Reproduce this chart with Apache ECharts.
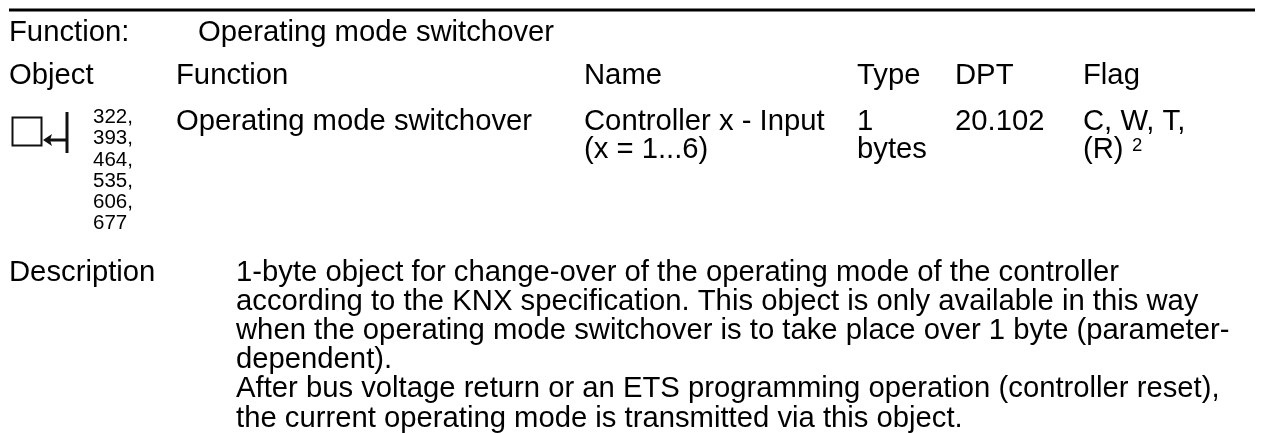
<!DOCTYPE html>
<html><head><meta charset="utf-8">
<style>html,body{margin:0;padding:0;background:#fff}#c{width:1269px;height:433px}</style>
<script src="https://cdn.jsdelivr.net/npm/echarts@6/dist/echarts.min.js"></script>
</head><body><div id="c"></div>
<script>
const titleLabel = 'Function:';
const titleValue = 'Operating mode switchover';
const headers = ['Object','Function','Name','Type','DPT','Flag'];
const objectNumbers = ['322,','393,','464,','535,','606,','677'];
const functionCell = ['Operating mode switchover'];
const nameCell = ['Controller x - Input','(x = 1...6)'];
const typeCell = ['1','bytes'];
const dptCell = ['20.102'];
const flagCell = ['C, W, T,','(R) '];
const flagNote = '2';
const descriptionLabel = 'Description';
const descriptionLines = [
 '1-byte object for change-over of the operating mode of the controller',
 'according to the KNX specification. This object is only available in this way',
 'when the operating mode switchover is to take place over 1 byte (parameter-',
 'dependent).',
 'After bus voltage return or an ETS programming operation (controller reset),',
 'the current operating mode is transmitted via this object.'
];
const F='"Liberation Sans", Arial, sans-serif', C='#000', S=29.25;
function t(text,x,base,size){const s=size||S;return {type:'text',x:x,y:base-Math.round(s*0.79),style:{text:text,x:0,y:0,fill:C,font:s+'px '+F}};}
function block(lines,x,y,lh,size){return lines.map((l,i)=>t(l,x,y+i*lh,size));}
const g=[];
g.push({type:'line',shape:{x1:9,y1:10,x2:1255,y2:10},style:{stroke:'#000',lineWidth:3}});
g.push(t(titleLabel,9,41));g.push(t(titleValue,198,41));
const headerX=[9,176,584,857,955,1083];
headers.forEach((h,i)=>g.push(t(h,headerX[i],84)));
g.push(...block(objectNumbers,93,123,21.2,20.5));
g.push(...block(functionCell,176,130,28.7));
g.push(...block(nameCell,584,130,28.7));
g.push(...block(typeCell,857,130,28.7));
g.push(...block(dptCell,955,130,28.7));
g.push(...block(flagCell,1083,130,28.7));
g.push(t(flagNote,1132,151,18.5));
g.push(t(descriptionLabel,9,281));
g.push(...block(descriptionLines,236,281,29.2));
g.push({type:'rect',shape:{x:12.5,y:117.5,width:29,height:28},style:{fill:'none',stroke:'#111',lineWidth:2}});
g.push({type:'line',shape:{x1:67,y1:112,x2:67,y2:153},style:{stroke:'#111',lineWidth:3}});
g.push({type:'line',shape:{x1:46,y1:140,x2:67,y2:140},style:{stroke:'#111',lineWidth:3}});
g.push({type:'polygon',shape:{points:[[43,140],[52,134],[50,140],[52,146]]},style:{fill:'#111'}});
const chart=echarts.init(document.getElementById('c'),null,{renderer:'canvas'});
chart.setOption({animation:false,backgroundColor:'#fff',graphic:{elements:g}});
</script></body></html>
